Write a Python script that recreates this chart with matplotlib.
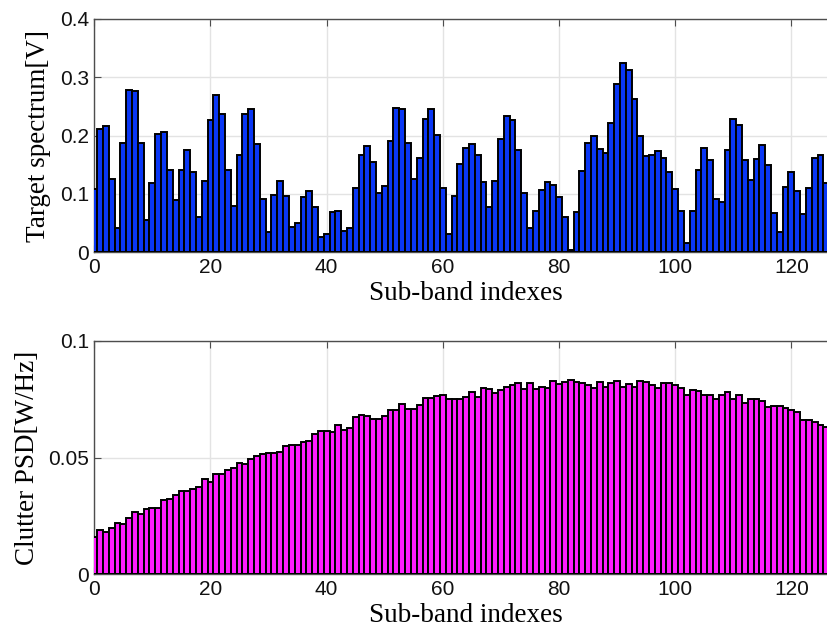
import matplotlib.pyplot as plt
import numpy as np

# sub-band values (index 0..126, right part cropped)
target_spectrum = [
    0.109, 0.211, 0.216, 0.126, 0.041, 0.187, 0.278, 0.277, 0.187, 0.056,
    0.118, 0.202, 0.206, 0.141, 0.090, 0.141, 0.175, 0.138, 0.060, 0.123,
    0.226, 0.270, 0.237, 0.141, 0.080, 0.167, 0.237, 0.245, 0.186, 0.091,
    0.034, 0.098, 0.122, 0.097, 0.043, 0.051, 0.094, 0.105, 0.078, 0.026,
    0.032, 0.069, 0.071, 0.037, 0.041, 0.110, 0.166, 0.183, 0.155, 0.102,
    0.114, 0.191, 0.247, 0.245, 0.187, 0.126, 0.161, 0.229, 0.246, 0.201,
    0.110, 0.031, 0.097, 0.152, 0.179, 0.185, 0.167, 0.121, 0.078, 0.123,
    0.194, 0.233, 0.226, 0.175, 0.102, 0.042, 0.071, 0.107, 0.121, 0.116,
    0.095, 0.060, 0.004, 0.069, 0.140, 0.188, 0.199, 0.177, 0.171, 0.221,
    0.288, 0.324, 0.312, 0.263, 0.200, 0.165, 0.166, 0.173, 0.161, 0.138,
    0.108, 0.070, 0.016, 0.070, 0.141, 0.178, 0.158, 0.091, 0.087, 0.175,
    0.229, 0.218, 0.158, 0.124, 0.160, 0.184, 0.150, 0.067, 0.034, 0.112,
    0.137, 0.105, 0.066, 0.111, 0.162, 0.166, 0.119,
]

clutter_psd = [
    0.0159, 0.0189, 0.0180, 0.0197, 0.0221, 0.0216, 0.0240, 0.0269, 0.0260, 0.0281,
    0.0283, 0.0283, 0.0320, 0.0323, 0.0339, 0.0356, 0.0357, 0.0367, 0.0374, 0.0409,
    0.0397, 0.0429, 0.0431, 0.0449, 0.0456, 0.0476, 0.0474, 0.0493, 0.0507, 0.0516,
    0.0521, 0.0519, 0.0524, 0.0549, 0.0553, 0.0554, 0.0566, 0.0570, 0.0600, 0.0614,
    0.0614, 0.0609, 0.0641, 0.0617, 0.0627, 0.0676, 0.0681, 0.0677, 0.0666, 0.0666,
    0.0677, 0.0704, 0.0704, 0.0729, 0.0709, 0.0710, 0.0724, 0.0754, 0.0754, 0.0763,
    0.0767, 0.0751, 0.0751, 0.0751, 0.0759, 0.0780, 0.0761, 0.0799, 0.0796, 0.0776,
    0.0789, 0.0803, 0.0810, 0.0819, 0.0794, 0.0821, 0.0796, 0.0803, 0.0800, 0.0830,
    0.0814, 0.0826, 0.0833, 0.0824, 0.0820, 0.0810, 0.0800, 0.0823, 0.0803, 0.0819,
    0.0830, 0.0803, 0.0816, 0.0801, 0.0827, 0.0823, 0.0810, 0.0797, 0.0821, 0.0819,
    0.0811, 0.0799, 0.0767, 0.0789, 0.0784, 0.0767, 0.0767, 0.0753, 0.0769, 0.0781,
    0.0750, 0.0767, 0.0734, 0.0750, 0.0750, 0.0741, 0.0717, 0.0721, 0.0721, 0.0713,
    0.0704, 0.0694, 0.0661, 0.0663, 0.0654, 0.0639, 0.0630,
]

x_ticks = [0, 20, 40, 60, 80, 100, 120]
top_yticks = [0, 0.1, 0.2, 0.3, 0.4]
top_yticklabels = ["0", "0.1", "0.2", "0.3", "0.4"]
bot_yticks = [0, 0.05, 0.1]
bot_yticklabels = ["0", "0.05", "0.1"]

BLUE = "#0a37f5"
MAGENTA = "#ff1cff"
GRID = "#e3e3e3"
AXIS = "#4d4d4d"

SERIF = ["Liberation Serif", "DejaVu Serif"]
SANS = ["Liberation Sans", "DejaVu Sans"]


def _style(ax, yticks, yticklabels):
    # axes run to 128 but the figure is cut just past 126, like the source image
    ax.set_xlim(0, 128)
    ax.set_xticks(x_ticks)
    ax.set_yticks(yticks)
    ax.set_yticklabels(yticklabels)
    ax.set_ylim(yticks[0], yticks[-1])
    ax.grid(True, color=GRID, linewidth=1)
    ax.set_axisbelow(True)
    for s in ax.spines.values():
        s.set_color(AXIS)
        s.set_linewidth(1)
    ax.tick_params(direction="in", top=True, right=True, length=5,
                   color=AXIS, labelsize=15, pad=4, labelcolor="#111111")
    for lab in ax.get_xticklabels() + ax.get_yticklabels():
        lab.set_family(SANS)
    ax.set_xlabel("Sub-band indexes", fontsize=19.5, family=SERIF, labelpad=3)


fig = plt.figure(figsize=(8.28, 6.37), dpi=100)
ax1 = fig.add_axes([0.1139, 0.6039, 0.898, 0.3663])
ax2 = fig.add_axes([0.1139, 0.0984, 0.898, 0.3663])

idx = np.arange(len(target_spectrum))
ax1.bar(idx, target_spectrum, width=1.0, color=BLUE, edgecolor="black",
        linewidth=1.4, zorder=3)
_style(ax1, top_yticks, top_yticklabels)
ax1.set_ylabel("Target spectrum[V]", fontsize=19.5, family=SERIF, labelpad=6)

idx2 = np.arange(len(clutter_psd))
ax2.bar(idx2, clutter_psd, width=1.0, color=MAGENTA, edgecolor="black",
        linewidth=1.4, zorder=3)
_style(ax2, bot_yticks, bot_yticklabels)
ax2.set_ylabel("Clutter PSD[W/Hz]", fontsize=19.5, family=SERIF, labelpad=6)

fig.savefig("out.png", dpi=100)
